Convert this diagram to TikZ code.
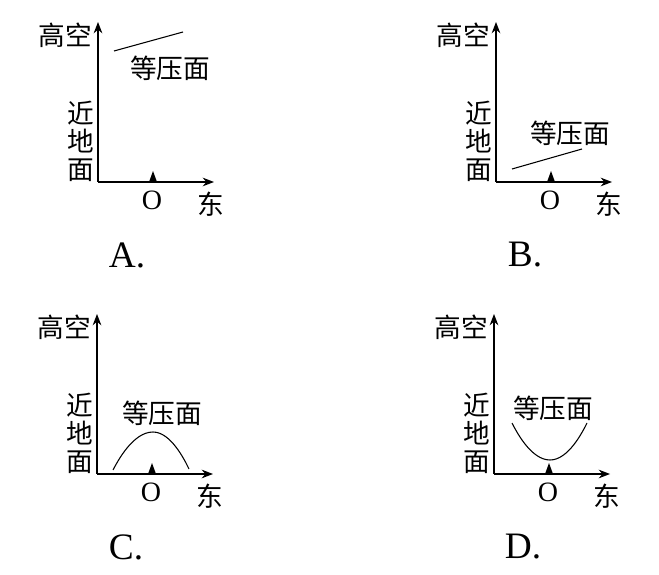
\documentclass[tikz,border=0pt]{standalone}
\usepackage{fontspec}
\setmainfont{Liberation Serif}
\newfontfamily\cjk{Noto Sans CJK SC}
\usepackage{tikz}
\usetikzlibrary{arrows.meta}

\begin{document}
\begin{tikzpicture}[
    x=0.75pt, y=0.75pt,
    axis/.style={-{Stealth[length=8.5pt, width=6.5pt]}, line width=0.9pt},
    surf/.style={line width=0.8pt},
    lbl/.style={font=\cjk\fontsize{20}{21}\selectfont, inner sep=0pt, align=center},
    num/.style={font=\fontsize{21}{22}\selectfont, inner sep=0pt},
    choice/.style={font=\fontsize{28}{30}\selectfont, inner sep=0pt},
  ]
  \useasboundingbox (0,0) rectangle (659,574);

  % the four panels: axes and their labels
  \foreach \p/\x/\y in {A/98/392, B/496/392, C/97/100, D/494/100} {
    \begin{scope}[shift={(\x,\y)}]
      \coordinate (o\p) at (0,0);
      \coordinate (x\p) at (116,0);
      \coordinate (y\p) at (0,160);
      \draw[axis] (o\p) -- (x\p);
      \draw[axis] (o\p) -- (y\p);
      \fill (51,0) -- (59,0) -- (55,11) -- cycle;
      \node[lbl] (high\p) at (-33,147) {高空};
      \node[lbl] (low\p) at (-17,41) {近\\地\\面};
      \node[num] (zero\p) at (54,-18) {O};
      \node[lbl] (east\p) at (113,-22) {东};
      \node[choice] (tag\p) at (29,-73) {\p.};
    \end{scope}
  }

  % isobaric surfaces
  \draw[surf] (114,523) -- (183,542);
  \node[lbl] (surfA) at (170,506) {等压面};
  \draw[surf] (512,405) -- (582,425);
  \node[lbl] (surfB) at (570,441) {等压面};
  \draw[surf] (113,104) parabola bend (153,142) (189,105);
  \node[lbl] (surfC) at (162,161) {等压面};
  \draw[surf] (512,151) parabola bend (550,114) (587,151);
  \node[lbl] (surfD) at (553,166) {等压面};
\end{tikzpicture}
\end{document}
